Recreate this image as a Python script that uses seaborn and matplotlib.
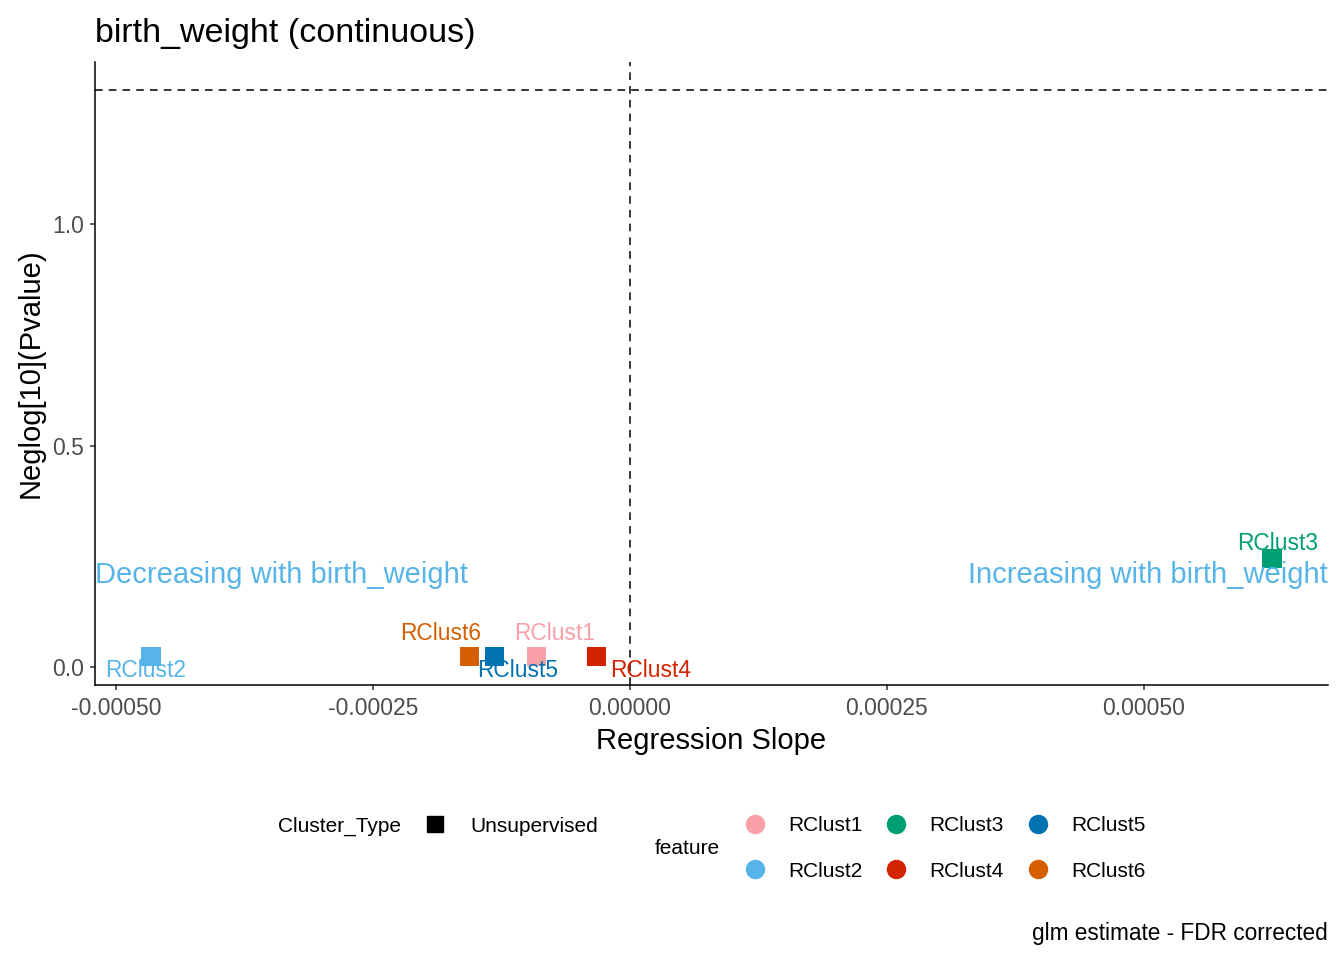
import math
import pandas as pd
import matplotlib
matplotlib.use("Agg")
import matplotlib.pyplot as plt
from matplotlib.lines import Line2D
from matplotlib.ticker import FormatStrFormatter
import seaborn as sns

# data
features = ["RClust1", "RClust2", "RClust3", "RClust4", "RClust5", "RClust6"]
slope = [-0.0000909, -0.000466, 0.000625, -0.0000324, -0.000132, -0.000156]
neglog_p = [0.0244, 0.0244, 0.245, 0.0244, 0.0244, 0.0244]
cluster_type = ["Unsupervised"] * 6
colors = ["#F99FA8", "#56B4E9", "#009E73", "#D42300", "#0072B2", "#D55E00"]
x_ticks = [-0.0005, -0.00025, 0.0, 0.00025, 0.0005]
y_ticks = [0.0, 0.5, 1.0]
p_cut = 0.05

# label offsets (points) like ggrepel placed them
label_offsets = {"RClust1": (13, 12.2), "RClust2": (-3.6, -14.4), "RClust3": (4.3, 6.5),
                 "RClust4": (39, -14.4), "RClust5": (16.5, -14.4), "RClust6": (-21, 12.2)}

df = pd.DataFrame({"feature": features, "slope": slope, "neglog_p": neglog_p,
                   "Cluster_Type": cluster_type})
palette = dict(zip(features, colors))
thresh = -math.log10(p_cut)

sns.set_style("ticks")
plt.rcParams["font.family"] = ["Liberation Sans", "DejaVu Sans"]
plt.rcParams["axes.unicode_minus"] = False
plt.rcParams["text.color"] = "black"
plt.rcParams["axes.labelcolor"] = "black"

fig = plt.figure(figsize=(13.44, 9.6), dpi=100)
ax = fig.add_axes([0.0707, 0.2865, 0.9174, 0.6489])

sns.scatterplot(data=df, x="slope", y="neglog_p", hue="feature", palette=palette,
                marker="s", s=190, edgecolor="none", legend=False, ax=ax, zorder=3)

# ggplot-like 5% expansion
xmin, xmax = min(slope), max(slope)
ymin, ymax = min(neglog_p), max(max(neglog_p), thresh)
xr, yr = xmax - xmin, ymax - ymin
ax.set_xlim(xmin - 0.05 * xr, xmax + 0.05 * xr)
ax.set_ylim(ymin - 0.05 * yr, ymax + 0.05 * yr)

ax.axhline(thresh, color="black", lw=1.1, ls=(0, (5, 4)), zorder=1)
ax.axvline(0, color="black", lw=1.1, ls=(0, (5, 4)), zorder=1)

for f, xv, yv in zip(features, slope, neglog_p):
    dx, dy = label_offsets[f]
    ax.annotate(f, (xv, yv), xytext=(dx, dy), textcoords="offset points",
                ha="center", va="baseline", fontsize=16.4, color=palette[f], zorder=4)

ax.text(ax.get_xlim()[0], 0.19, "Decreasing with birth_weight", ha="left", va="baseline",
        fontsize=21, color="#56B4E9")
ax.text(ax.get_xlim()[1], 0.19, "Increasing with birth_weight", ha="right", va="baseline",
        fontsize=21, color="#56B4E9")

ax.set_xticks(x_ticks)
ax.set_yticks(y_ticks)
ax.xaxis.set_major_formatter(FormatStrFormatter("%.5f"))
ax.yaxis.set_major_formatter(FormatStrFormatter("%.1f"))
ax.tick_params(axis="both", length=3.6, width=1.1, color="#333333", labelcolor="#4D4D4D",
               labelsize=16.5)
ax.tick_params(axis="x", pad=5)
ax.tick_params(axis="y", pad=4)
for s in ["left", "bottom"]:
    ax.spines[s].set_linewidth(1.1)
    ax.spines[s].set_color("black")
sns.despine(ax=ax)

ax.set_xlabel("Regression Slope", fontsize=21, labelpad=5)
ax.set_ylabel("Neglog[10](Pvalue)", fontsize=21, labelpad=6)

fig.text(0.0707, 0.956, "birth_weight (continuous)", fontsize=24.5, ha="left", va="baseline")
fig.text(0.9881, 0.028, "glm estimate - FDR corrected", fontsize=16.3, ha="right", va="center")

# legends
fig.text(278 / 1344, 1 - 826 / 960, "Cluster_Type", fontsize=15, ha="left", va="center")
ct_handle = [Line2D([], [], marker="s", linestyle="", color="black", markersize=12)]
fig.legend(ct_handle, ["Unsupervised"], loc="center left",
           bbox_to_anchor=(424.6 / 1344, 1 - 826 / 960), frameon=False, fontsize=15,
           handlelength=1, handletextpad=1.18, borderpad=0, borderaxespad=0)

fig.text(655 / 1344, 1 - 848 / 960, "feature", fontsize=15, ha="left", va="center")
f_handles = [Line2D([], [], marker="o", linestyle="", color=palette[f], markersize=13)
             for f in features]
fig.legend(f_handles, features, loc="center left", ncol=3,
           bbox_to_anchor=(744.6 / 1344, 1 - 848.5 / 960), frameon=False, fontsize=15,
           handlelength=1, handletextpad=1.09, columnspacing=1.13, labelspacing=1.25,
           borderpad=0, borderaxespad=0)

fig.savefig("out.png", dpi=100)
